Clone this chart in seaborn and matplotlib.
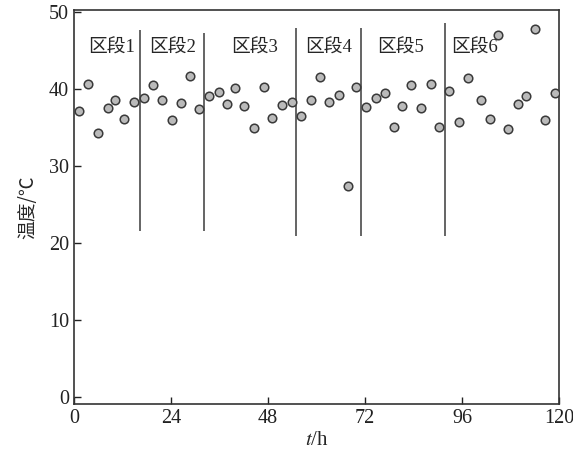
import matplotlib
matplotlib.use("Agg")
import matplotlib.pyplot as plt
import pandas as pd
import seaborn as sns

# =========================================
# DATA
# =========================================

time_h = [1.2, 3.5, 6.0, 8.4, 10.1, 12.4, 14.9, 17.3, 19.6, 21.8, 24.3, 26.5, 28.7,
          31.0, 33.4, 35.9, 37.9, 39.9, 42.1, 44.6, 47.0, 49.0, 51.5, 54.0, 56.2,
          58.7, 60.9, 63.1, 65.6, 67.8, 69.8, 72.3, 74.8, 77.0, 79.2, 81.2, 83.4,
          85.9, 88.4, 90.3, 92.8, 95.3, 97.5, 100.7, 103.0, 104.9, 107.4, 109.9,
          111.9, 114.1, 116.6, 119.0]

temperature = [37.1, 40.6, 34.3, 37.5, 38.6, 36.1, 38.3, 38.8, 40.5, 38.6, 36.0, 38.2,
               41.7, 37.4, 39.1, 39.6, 38.1, 40.1, 37.8, 34.9, 40.3, 36.2, 37.9, 38.3,
               36.5, 38.6, 41.6, 38.3, 39.2, 27.4, 40.3, 37.7, 38.8, 39.4, 35.1, 37.8,
               40.5, 37.5, 40.6, 35.1, 39.7, 35.7, 41.4, 38.6, 36.1, 47.0, 34.8, 38.1,
               39.1, 47.8, 36.0, 39.4]

# segment boundaries (t, bottom, top)
boundary_t = [16.3, 32.2, 55.0, 71.0, 91.8]
boundary_low = [21.6, 21.6, 20.9, 20.9, 20.9]
boundary_high = [47.6, 47.2, 47.9, 47.9, 48.6]

segment_labels = ["区段1", "区段2", "区段3", "区段4", "区段5", "区段6"]
segment_label_t = [9.2, 24.4, 44.8, 63.0, 80.7, 99.1]
segment_label_y = 45.3

df = pd.DataFrame({"t": time_h, "temp": temperature})

# =========================================
# PLOT
# =========================================

sns.set_style("ticks")
plt.rcParams["font.family"] = ["Liberation Serif", "Noto Sans CJK SC"]
plt.rcParams["mathtext.fontset"] = "stix"

fig = plt.figure(figsize=(5.73, 4.59), dpi=100)
ax = fig.add_axes([74 / 573, 1 - 404 / 459, (559 - 74) / 573, (404 - 9.5) / 459])

sns.scatterplot(
    data=df,
    x="t",
    y="temp",
    ax=ax,
    s=38,
    color="#bababa",
    edgecolor="#3a3a3a",
    linewidth=1.1,
    zorder=3
)

ax.vlines(boundary_t, boundary_low, boundary_high, color="#4a4a4a", linewidth=1.2)

for label, t in zip(segment_labels, segment_label_t):
    ax.text(t, segment_label_y, label, ha="center", va="center", fontsize=13.5,
            family=["Liberation Serif", "Noto Sans CJK SC"])

ax.set_xlim(0, 120)
ax.set_ylim(-0.9, 50.3)
ax.set_xticks([0, 24, 48, 72, 96, 120])
ax.set_yticks([0, 10, 20, 30, 40, 50])

ax.tick_params(direction="in", length=5, width=1, labelsize=14.5, colors="#222222")
for side in ["top", "right", "left", "bottom"]:
    ax.spines[side].set_visible(True)
    ax.spines[side].set_color("#333333")
    ax.spines[side].set_linewidth(1.2)

ax.set_xlabel("$t$/h", fontsize=15, labelpad=2)
ax.set_ylabel("温度/℃", fontsize=13.5, labelpad=8,
              family=["Noto Sans CJK SC", "DejaVu Sans"])

fig.savefig("out.png", dpi=100)
